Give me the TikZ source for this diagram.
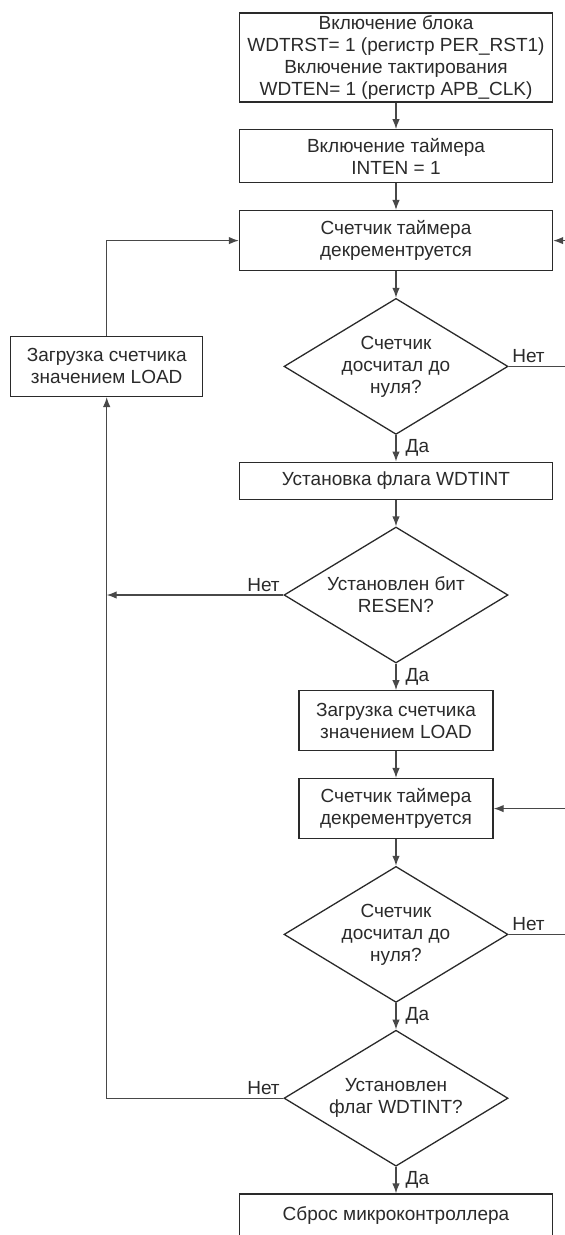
\documentclass[tikz,border=0pt]{standalone}
\usepackage{fontspec}
\setmainfont{Liberation Sans}
\usepackage{tikz}
\usetikzlibrary{arrows.meta,positioning,shapes.geometric}
\definecolor{wdtInk}{HTML}{2A2A2A}
\definecolor{wdtWire}{HTML}{484848}

\begin{document}
\begin{tikzpicture}[x=1pt,y=-1pt,
  font=\fontsize{19}{22}\selectfont,text=wdtInk,
  node distance=26.5pt,
  blk/.style={draw=wdtInk,line width=1.3pt,align=center,inner sep=1.5pt,
              minimum width=313pt},
  nblk/.style={blk,minimum width=194pt,minimum height=60pt},
  cond/.style={diamond,draw=wdtInk,line width=1.3pt,align=center,inner sep=0pt,
               aspect=1.65,minimum width=224pt,minimum height=136pt},
  flow/.style={draw=wdtWire,line width=1.3pt,-{Latex[length=10pt,width=7.5pt]}},
  lbl/.style={inner sep=3pt}]
  \useasboundingbox (0,0) rectangle (565,1235);
  % main column
  \node[blk,minimum height=89pt] (init) at (396,57.5) {%
    Включение блока\\WDTRST= 1 (регистр PER\_RST1)\\
    Включение тактирования\\WDTEN= 1 (регистр APB\_CLK)};
  \node[blk,minimum height=53pt,below=of init] (inten) {Включение таймера\\INTEN = 1};
  \node[blk,minimum height=60pt,below=of inten] (dec1) {Счетчик таймера\\декрементруется};
  \node[cond,below=of dec1] (zero1) {Счетчик\\досчитал до\\нуля?};
  \node[blk,minimum height=37pt,below=of zero1] (flag) {Установка флага WDTINT};
  \node[cond,below=of flag] (resen) {Установлен бит\\RESEN?};
  \node[nblk,below=of resen] (load2) {Загрузка счетчика\\значением LOAD};
  \node[nblk,below=of load2] (dec2) {Счетчик таймера\\декрементруется};
  \node[cond,below=of dec2] (zero2) {Счетчик\\досчитал до\\нуля?};
  \node[cond,below=of zero2] (wdtint) {Установлен\\флаг WDTINT?};
  \node[blk,minimum height=48pt,text depth=9pt,below=of wdtint] (reset) {Сброс микроконтроллера};
  % reload on the left
  \node[blk,minimum width=192pt,minimum height=60pt,left=80pt of zero1] (load1)
    {Загрузка счетчика\\значением LOAD};

  \draw[flow] (init.south) -- (inten.north);
  \draw[flow] (inten.south) -- (dec1.north);
  \draw[flow] (dec1.south) -- (zero1.north);
  \draw[flow] (zero1.south) -- node[lbl,right=6pt] {Да} (flag.north);
  \draw[flow] (flag.south) -- (resen.north);
  \draw[flow] (resen.south) -- node[lbl,right=6pt] {Да} (load2.north);
  \draw[flow] (load2.south) -- (dec2.north);
  \draw[flow] (dec2.south) -- (zero2.north);
  \draw[flow] (zero2.south) -- node[lbl,right=6pt] {Да} (wdtint.north);
  \draw[flow] (wdtint.south) -- node[lbl,right=6pt] {Да} (reset.north);
  % loops
  \draw[flow] (zero1.east) node[lbl,above right] {Нет} -- ++(80,0) |- (dec1.east);
  \draw[flow] (zero2.east) node[lbl,above right] {Нет} -- ++(80,0) |- (dec2.east);
  \draw[flow] (load1.north) |- (dec1.west);
  \draw[flow] (resen.west) node[lbl,above left] {Нет} -- (resen.west -| load1.south);
  \draw[flow] (wdtint.west) node[lbl,above left] {Нет} -| (load1.south);
\end{tikzpicture}
\end{document}
